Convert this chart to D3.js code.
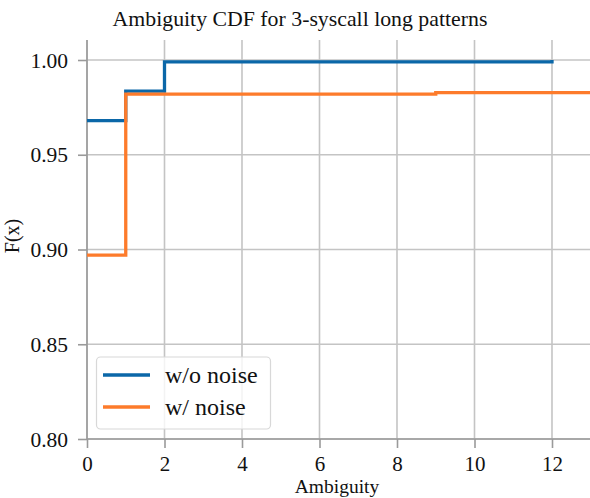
<!DOCTYPE html>
<html><head><meta charset="utf-8">
<script src="https://cdn.jsdelivr.net/npm/d3@7"></script>
<style>body{margin:0;background:#fff}</style>
</head><body>
<svg id="c" width="590" height="498"></svg>
<script>
const seriesNames = ["w/o noise", "w/ noise"];
const seriesColors = ["#0b67a8", "#fd7b2b"];
const blueX = [0, 1, 2, 12];
const blueY = [0.968, 0.9836, 0.999, 1.0];
const orangeX = [0, 1, 9, 13];
const orangeY = [0.897, 0.982, 0.9828, 0.9828];
const xTicks = [0, 2, 4, 6, 8, 10, 12];
const yTicks = [0.80, 0.85, 0.90, 0.95, 1.00];

const svg = d3.select("#c");
const font = "'Liberation Serif', 'Times New Roman', serif";
const L = 87, R = 590, T = 40, B = 439;
const x = d3.scaleLinear().domain([0, 13]).range([L, L + 13 * 38.75]);
const y = d3.scaleLinear().domain([0.80, 1.0]).range([B, 60]);

// grid
svg.append("g").selectAll("line").data(xTicks).join("line")
  .attr("x1", d => x(d)).attr("x2", d => x(d)).attr("y1", T).attr("y2", B)
  .attr("stroke", "#c4c4c4").attr("stroke-width", 1.6);
svg.append("g").selectAll("line").data(yTicks).join("line")
  .attr("x1", L).attr("x2", R).attr("y1", d => y(d)).attr("y2", d => y(d))
  .attr("stroke", "#c4c4c4").attr("stroke-width", 1.6);

// axes
const xAxis = svg.append("g").attr("transform", `translate(0,${B})`)
  .call(d3.axisBottom(x).tickValues(xTicks).tickFormat(d3.format("d")).tickSizeOuter(0).tickSize(9).tickPadding(0));
const yAxis = svg.append("g").attr("transform", `translate(${L},0)`)
  .call(d3.axisLeft(y).tickValues(yTicks).tickFormat(d3.format(".2f")).tickSizeOuter(0).tickSize(9).tickPadding(10));
xAxis.select(".domain").attr("d", `M${L},0H${R}`);
yAxis.select(".domain").attr("d", `M0,${T}V${B}`);
[xAxis, yAxis].forEach(a => {
  a.selectAll(".domain").attr("stroke", "#9a9a9a").attr("stroke-width", 1.6);
  a.selectAll(".tick line").attr("stroke", "#9a9a9a").attr("stroke-width", 1.6);
  a.selectAll(".tick text").attr("font-family", font).attr("font-size", 21.5).attr("fill", "#111");
});
xAxis.selectAll(".tick text").attr("y", 32).attr("dy", null).attr("font-size", 21);
yAxis.selectAll(".tick text").attr("dy", "0.33em");

// lines
const line = d3.line().x(d => x(d[0])).y(d => y(d[1])).curve(d3.curveStepAfter);
const data = [d3.zip(blueX, blueY), d3.zip(orangeX, orangeY)];
svg.append("clipPath").attr("id", "cp").append("rect")
  .attr("x", L - 2).attr("y", T - 10).attr("width", R - L + 2).attr("height", B - T + 12);
svg.append("g").attr("clip-path", "url(#cp)").selectAll("path").data(data).join("path")
  .attr("d", line).attr("fill", "none")
  .attr("stroke", (d, i) => seriesColors[i]).attr("stroke-width", 3.3);

// title / labels
svg.append("text").attr("x", 300).attr("y", 26).attr("text-anchor", "middle")
  .attr("font-family", font).attr("font-size", 21.8).attr("fill", "#111")
  .text("Ambiguity CDF for 3-syscall long patterns");
svg.append("text").attr("x", 337).attr("y", 493).attr("text-anchor", "middle")
  .attr("font-family", font).attr("font-size", 19.5).attr("fill", "#111").text("Ambiguity");
svg.append("text").attr("transform", `translate(19,236) rotate(-90)`).attr("text-anchor", "middle")
  .attr("font-family", font).attr("font-size", 20).attr("fill", "#111").text("F(x)");

// legend
const lg = svg.append("g");
lg.append("rect").attr("x", 96.5).attr("y", 357).attr("width", 174).attr("height", 72).attr("rx", 4)
  .attr("fill", "#fff").attr("fill-opacity", 0.8).attr("stroke", "#d8d8d8").attr("stroke-width", 1.2);
seriesNames.forEach((n, i) => {
  const yy = 375 + i * 32;
  lg.append("line").attr("x1", 103).attr("x2", 150).attr("y1", yy).attr("y2", yy)
    .attr("stroke", seriesColors[i]).attr("stroke-width", 3.3);
  lg.append("text").attr("x", 165).attr("y", yy + 8).attr("font-family", font).attr("font-size", 24)
    .attr("fill", "#111").text(n);
});
</script>
</body></html>
